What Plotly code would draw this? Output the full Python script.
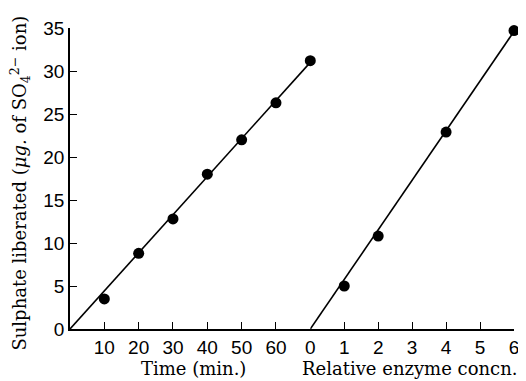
import plotly.graph_objects as go

# Data
time_min = [10, 20, 30, 40, 50, 60, 70]
sulphate_time = [3.5, 8.8, 12.8, 18.0, 22.0, 26.3, 31.2]
time_fit_x = [0, 70]
time_fit_y = [0, 31.0]

enzyme_conc = [1, 2, 4, 6]
sulphate_enzyme = [5.0, 10.8, 22.9, 34.7]
enz_fit_x = [0, 6]
enz_fit_y = [0, 34.6]

y_ticks = [0, 5, 10, 15, 20, 25, 30, 35]
time_ticks = [10, 20, 30, 40, 50, 60]
enz_ticks = [0, 1, 2, 3, 4, 5, 6]

fig = go.Figure()
line_style = dict(color="black", width=1.6)
marker_style = dict(color="black", size=11)

fig.add_trace(go.Scatter(x=time_fit_x, y=time_fit_y, mode="lines", line=line_style,
                         xaxis="x", yaxis="y", showlegend=False, hoverinfo="skip"))
fig.add_trace(go.Scatter(x=time_min, y=sulphate_time, mode="markers", marker=marker_style,
                         xaxis="x", yaxis="y", showlegend=False, cliponaxis=False))
fig.add_trace(go.Scatter(x=enz_fit_x, y=enz_fit_y, mode="lines", line=line_style,
                         xaxis="x2", yaxis="y", showlegend=False, hoverinfo="skip"))
fig.add_trace(go.Scatter(x=enzyme_conc, y=sulphate_enzyme, mode="markers", marker=marker_style,
                         xaxis="x2", yaxis="y", showlegend=False, cliponaxis=False))

split = 243 / 449
tickfont = dict(family="Liberation Sans", size=19, color="black")
axis_common = dict(showline=True, linecolor="black", linewidth=1.6, ticks="inside",
                   ticklen=7, tickwidth=1.4, tickcolor="black", showgrid=False,
                   zeroline=False, tickfont=tickfont)

# page body has an 8px margin; compensate so the plot area lands at x 70..519, y 28..329
fig.update_layout(
    width=518, height=373,
    margin=dict(l=62, r=7, t=20, b=52),
    paper_bgcolor="white", plot_bgcolor="white",
    xaxis=dict(domain=[0, split], range=[0, 70], tickvals=time_ticks,
               ticktext=[str(v) for v in time_ticks], anchor="y", **axis_common),
    xaxis2=dict(domain=[split, 1], range=[0, 6], tickvals=enz_ticks,
                ticktext=[str(v) for v in enz_ticks], anchor="y", **axis_common),
    yaxis=dict(domain=[0, 1], range=[0, 35], tickvals=y_ticks,
               ticktext=[str(v) for v in y_ticks], anchor="x", **axis_common),
)

title_font = dict(family="DejaVu Serif", size=18, color="black")
fig.add_annotation(text="Time (min.)", xref="paper", yref="paper",
                   x=(195 - 70) / 449, y=-(368 - 329) / 301, xanchor="center", yanchor="middle",
                   showarrow=False, font=title_font)
fig.add_annotation(text="Relative enzyme concn.", xref="paper", yref="paper",
                   x=(413 - 70) / 449, y=-(368 - 329) / 301, xanchor="center", yanchor="middle",
                   showarrow=False, font=title_font)
fig.add_annotation(text="Sulphate liberated (<i>μg.</i> of SO<sub>4</sub><sup>2−</sup> ion)",
                   xref="paper", yref="paper", textangle=-90,
                   x=(19 - 70) / 449, y=(329 - 183) / 301, xanchor="center", yanchor="middle",
                   showarrow=False, font=title_font)

fig.write_html("out.html")
